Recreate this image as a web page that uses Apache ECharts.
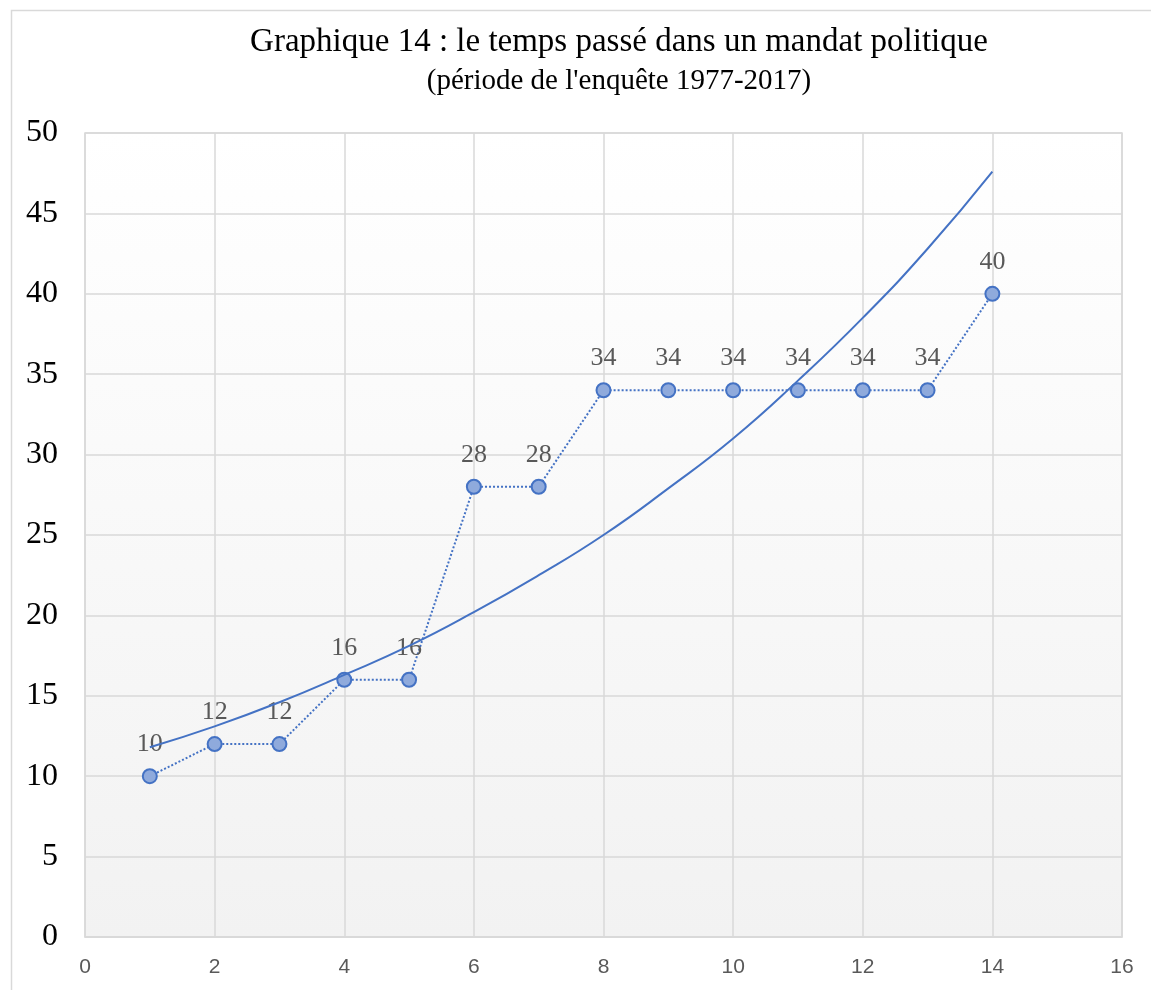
<!DOCTYPE html>
<html>
<head>
<meta charset="utf-8">
<script src="https://cdn.jsdelivr.net/npm/echarts@6/dist/echarts.min.js"></script>
<style>html,body{margin:0;padding:0;background:#fff;}#c{width:1151px;height:990px;}</style>
</head>
<body>
<div id="c"></div>
<script>
// Data
const titleText = "Graphique 14 : le temps passé dans un mandat politique";
const subtitleText = "(période de l'enquête 1977-2017)";
const xValues = [1, 2, 3, 4, 5, 6, 7, 8, 9, 10, 11, 12, 13, 14];
const yValues = [10, 12, 12, 16, 16, 28, 28, 34, 34, 34, 34, 34, 34, 40];
// Trend curve at each x
const trendValues = [11.8, 13.1, 14.6, 16.3, 18.1, 20.2, 22.5, 25.0, 27.9, 31.0, 34.6, 38.5, 42.8, 47.6];

const chart = echarts.init(document.getElementById('c'), null, {renderer: 'canvas'});
const serif = "'Liberation Serif', 'Times New Roman', serif";
const option = {
  animation: false,
  backgroundColor: '#ffffff',
  graphic: [{
    type: 'rect', left: 9, top: 8, z: -10,
    shape: {width: 1300, height: 1100},
    style: {fill: 'none', stroke: '#d9d9d9', lineWidth: 1.5}
  }],
  title: [
    {text: titleText, left: 614, top: 21, textAlign: 'center',
     textStyle: {fontFamily: serif, fontSize: 33, fontWeight: 'normal', color: '#000'}},
    {text: subtitleText, left: 614, top: 62, textAlign: 'center',
     textStyle: {fontFamily: serif, fontSize: 29, fontWeight: 'normal', color: '#000'}}
  ],
  grid: {
    left: 85, right: 29, top: 133, bottom: 53, show: true,
    borderColor: '#d9d9d9', borderWidth: 1.5,
    backgroundColor: {type: 'linear', x: 0, y: 0, x2: 0, y2: 1,
      colorStops: [{offset: 0, color: '#ffffff'}, {offset: 1, color: '#f2f2f2'}]}
  },
  xAxis: {
    type: 'value', min: 0, max: 16, interval: 2,
    axisLine: {show: true, lineStyle: {color: '#d9d9d9', width: 1.5}},
    axisTick: {show: false},
    splitLine: {show: true, lineStyle: {color: '#d9d9d9', width: 1.5}},
    axisLabel: {color: '#595959', fontSize: 21, fontFamily: "'Liberation Sans', Arial, sans-serif", margin: 20}
  },
  yAxis: {
    type: 'value', min: 0, max: 50, interval: 5,
    axisLine: {show: false},
    axisTick: {show: false},
    splitLine: {show: true, lineStyle: {color: '#d9d9d9', width: 1.5}},
    axisLabel: {color: '#000', fontSize: 32, fontFamily: serif, margin: 27}
  },
  series: [
    {
      type: 'line',
      data: xValues.map((x, i) => [x, yValues[i]]),
      symbol: 'circle', symbolSize: 14,
      lineStyle: {color: '#4472c4', width: 2, type: 'dotted'},
      itemStyle: {color: '#8faadc', borderColor: '#4472c4', borderWidth: 2},
      label: {show: true, position: 'top', distance: 11, color: '#595959', fontSize: 26, fontFamily: serif},
      z: 3
    },
    {
      type: 'line',
      data: xValues.map((x, i) => [x, trendValues[i]]),
      smooth: true, showSymbol: false, symbol: 'none',
      lineStyle: {color: '#4472c4', width: 2},
      z: 4
    }
  ]
};
chart.setOption(option);
</script>
</body>
</html>
